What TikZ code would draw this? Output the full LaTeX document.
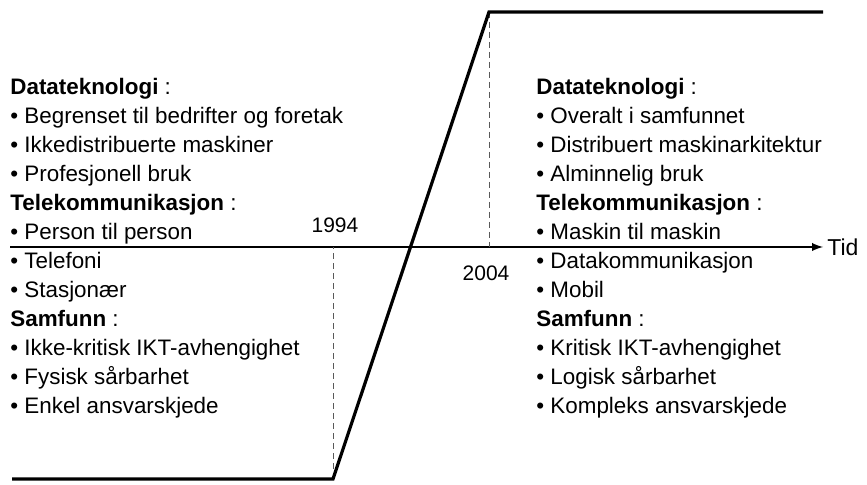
\documentclass[tikz,border=0pt]{standalone}
\usepackage{fontspec}
\setmainfont{Liberation Sans}
\usepackage{tikz}
\usetikzlibrary{positioning, arrows, calc}

\tikzset{
  kurve/.style={line width=1.6pt, line join=miter},
  hjelp/.style={densely dashed, line width=0.5pt, gray!70!black},
  akse/.style={->, >=latex, line width=0.9pt},
  liste/.style={anchor=north west, align=left, inner sep=0pt,
    font=\fontsize{11.2}{14.5}\selectfont},
  aar/.style={font=\fontsize{10.5}{12}\selectfont}
}

\begin{document}
\begin{tikzpicture}[x=0.5pt,y=-0.5pt]
  \useasboundingbox (0,0) rectangle (867,485);

  \coordinate (b_0) at (12,479);
  \coordinate (b_1) at (333,479);
  \coordinate (t_1) at (489,12);
  \coordinate (t_2) at (823,12);
  \coordinate (a_0) at (10,247);
  \coordinate (a_1) at (823,247);

  % tidsakse
  \draw[akse] (a_0) -- (a_1);
  \node[font=\fontsize{11.5}{14}\selectfont, anchor=west, inner sep=2pt] (tid) at (a_1) {Tid};

  % hjelpelinjer
  \draw[hjelp] (b_1) -- (b_1 |- a_0);
  \draw[hjelp] (t_1) -- (t_1 |- a_0);

  % overgang
  \draw[kurve] (b_0) -- (b_1) -- (t_1) -- (t_2);

  \node[aar] (y_1994) at (335,225) {1994};
  \node[aar] (y_2004) at (486,273) {2004};

  \node[liste] (foer) at (10,78) {%
    \textbf{Datateknologi} :\\
    • Begrenset til bedrifter og foretak\\
    • Ikkedistribuerte maskiner\\
    • Profesjonell bruk\\
    \textbf{Telekommunikasjon} :\\
    • Person til person\\
    • Telefoni\\
    • Stasjonær\\
    \textbf{Samfunn} :\\
    • Ikke-kritisk IKT-avhengighet\\
    • Fysisk sårbarhet\\
    • Enkel ansvarskjede};

  \node[liste] (etter) at (536,78) {%
    \textbf{Datateknologi} :\\
    • Overalt i samfunnet\\
    • Distribuert maskinarkitektur\\
    • Alminnelig bruk\\
    \textbf{Telekommunikasjon} :\\
    • Maskin til maskin\\
    • Datakommunikasjon\\
    • Mobil\\
    \textbf{Samfunn} :\\
    • Kritisk IKT-avhengighet\\
    • Logisk sårbarhet\\
    • Kompleks ansvarskjede};
\end{tikzpicture}
\end{document}
